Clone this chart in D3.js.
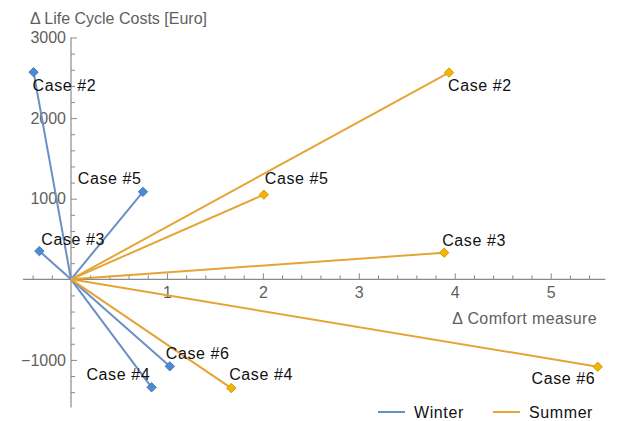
<!DOCTYPE html>
<html><head><meta charset="utf-8">
<script src="https://cdn.jsdelivr.net/npm/d3@7"></script>
<style>
html,body{margin:0;padding:0;background:#fff;}
svg{display:block;font-family:"Liberation Sans",Arial,Helvetica,sans-serif;}
</style></head>
<body><svg id="chart" width="621" height="421"></svg>
<script>
// ---- data ----
const caseLabels = ["Case #2", "Case #5", "Case #3", "Case #4", "Case #6"];
const winterX = [-0.39, 0.75, -0.33, 0.84, 1.03];
const winterY = [2570, 1085, 350, -1340, -1080];
const summerX = [3.94, 2.01, 3.89, 1.67, 5.49];
const summerY = [2565, 1050, 330, -1350, -1085];
const seriesNames = ["Winter", "Summer"];
const xTickValues = [1, 2, 3, 4, 5];
const yTickValues = [-1000, 1000, 2000, 3000];

// ---- layout (not data) ----
const winterPlacement = [
  {anchor:"start", dx:-1, dy:13}, {anchor:"end", dx:-2, dy:-13}, {anchor:"start", dx:2, dy:-12},
  {anchor:"end", dx:-2, dy:-13}, {anchor:"start", dx:-4, dy:-13}];
const summerPlacement = [
  {anchor:"start", dx:-1, dy:13}, {anchor:"start", dx:1, dy:-16}, {anchor:"start", dx:-2, dy:-12},
  {anchor:"start", dx:-2, dy:-14}, {anchor:"end", dx:-3, dy:12}];

const svg = d3.select("#chart");
const x = d3.scaleLinear().domain([0, 5]).range([71, 550.7]);
const y = d3.scaleLinear().domain([0, 3000]).range([279.3, 37.5]);

const axisColor = "#8a8a8a", labelColor = "#5f5f5f";
const colors = {Winter: {line:"#6b8fc4", fill:"#4a8bd3", stroke:"#3a6fae"},
                Summer: {line:"#e5a436", fill:"#f5b400", stroke:"#c79200"}};

function minorRange(a, b, step){ const r=[]; for(let v=a; v<=b+1e-9; v+=step){ r.push(Math.round(v*1000)/1000);} return r; }
const xMinor = minorRange(-0.4, 5.4, 0.2).filter(v => Math.abs(v - Math.round(v)) > 1e-6);
const yMinor = minorRange(-1400, 2800, 200).filter(v => v % 1000 !== 0);

const gx = svg.append("g").attr("transform", `translate(0,${y(0)})`);
gx.append("line").attr("x1", x(-0.5)).attr("x2", x(5.57)).attr("y1",0).attr("y2",0)
  .attr("stroke", axisColor).attr("stroke-width", 1.2);
gx.call(g => {
  g.append("g").call(d3.axisBottom(x).tickValues(xTickValues).tickSize(-6).tickPadding(7).tickFormat(d3.format("d")));
  g.append("g").call(d3.axisBottom(x).tickValues(xMinor).tickSize(-4).tickFormat(""));
  g.selectAll(".domain").remove();
  g.selectAll(".tick line").attr("stroke", axisColor);
  g.selectAll(".tick text").attr("fill", labelColor).style("font-size","16px").style("font-family","Liberation Sans, Arial, sans-serif");
});

const gy = svg.append("g").attr("transform", `translate(${x(0)},0)`);
gy.append("line").attr("x1",0).attr("x2",0).attr("y1", y(3000)).attr("y2", y(-1590))
  .attr("stroke", axisColor).attr("stroke-width", 1.2);
gy.call(g => {
  g.append("g").call(d3.axisLeft(y).tickValues(yTickValues).tickSize(-6).tickPadding(5)
    .tickFormat(d => d < 0 ? "\u2212" + Math.abs(d) : String(d)));
  g.append("g").call(d3.axisLeft(y).tickValues(yMinor).tickSize(-4).tickFormat(""));
  g.selectAll(".domain").remove();
  g.selectAll(".tick line").attr("stroke", axisColor);
  g.selectAll(".tick text").attr("fill", labelColor).style("font-size","16px").style("font-family","Liberation Sans, Arial, sans-serif");
});

svg.append("text").attr("x", 30).attr("y", 24).attr("fill", labelColor)
  .style("font-size","16px").text("\u0394 Life Cycle Costs [Euro]");
svg.append("text").attr("x", 597).attr("y", 324).attr("text-anchor","end").attr("fill", labelColor)
  .style("font-size","16px").style("letter-spacing","0.4px").text("\u0394 Comfort measure");

const series = [
  {name: seriesNames[0], xs: winterX, ys: winterY, place: winterPlacement},
  {name: seriesNames[1], xs: summerX, ys: summerY, place: summerPlacement}
];
const diamond = d3.symbol().type(d3.symbolSquare).size(44);

series.forEach(s => {
  const c = colors[s.name];
  const g = svg.append("g");
  s.xs.forEach((xv, i) => {
    g.append("line").attr("x1", x(0)).attr("y1", y(0)).attr("x2", x(xv)).attr("y2", y(s.ys[i]))
      .attr("stroke", c.line).attr("stroke-width", 2);
  });
});
series.forEach(s => {
  const c = colors[s.name];
  const g = svg.append("g");
  s.xs.forEach((xv, i) => {
    g.append("path").attr("d", diamond)
      .attr("transform", `translate(${x(xv)},${y(s.ys[i])}) rotate(45)`)
      .attr("fill", c.fill).attr("stroke", c.stroke).attr("stroke-width", 0.8);
  });
});
series.forEach(s => {
  s.xs.forEach((xv, i) => {
    const p = s.place[i];
    svg.append("text").attr("x", x(xv) + p.dx + (p.anchor === "end" ? 0.6 : 0)).attr("y", y(s.ys[i]) + p.dy)
      .attr("text-anchor", p.anchor).attr("dominant-baseline","central")
      .attr("fill", "#111").style("font-size","16px").style("letter-spacing","0.6px").text(caseLabels[i]);
  });
});

const legend = svg.append("g");
const legendX = [378, 493];
seriesNames.forEach((n, i) => {
  const lx = legendX[i];
  legend.append("line").attr("x1", lx).attr("x2", lx + 27).attr("y1", 412).attr("y2", 412)
    .attr("stroke", colors[n].line).attr("stroke-width", 2);
  legend.append("text").attr("x", lx + 36).attr("y", 412).attr("dominant-baseline","central")
    .attr("fill", "#111").style("font-size","16px").style("letter-spacing","0.6px").text(n);
});
</script></body></html>
